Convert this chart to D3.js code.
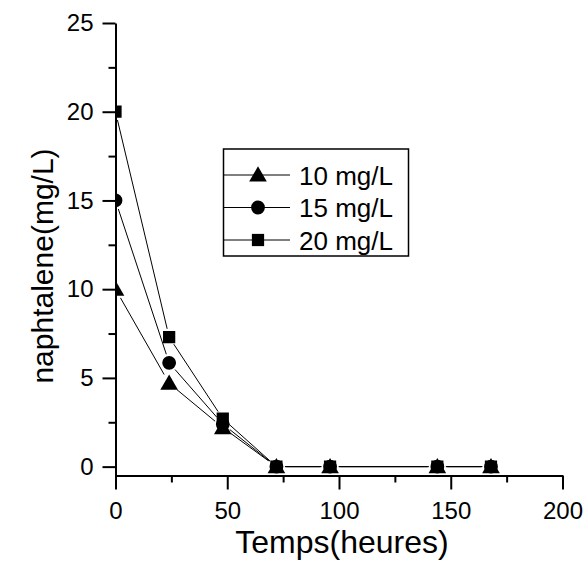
<!DOCTYPE html><html><head><meta charset="utf-8">
<title>naphtalene</title>
<script src="https://cdn.jsdelivr.net/npm/d3@7"></script>
<style>
body { margin: 0; background: #fff; }
svg { display: block; font-family: "Liberation Sans", Arial, sans-serif; }
</style>
</head>
<body>
<div id="chart"></div>
<script>
// data
const hours = [0, 24, 48, 72, 96, 144, 168];
const s10 = [10, 4.7, 2.2, 0, 0, 0, 0];
const s15 = [15, 5.85, 2.4, 0, 0, 0, 0];
const s20 = [20, 7.3, 2.7, 0, 0, 0, 0];
const seriesNames = ["10 mg/L", "15 mg/L", "20 mg/L"];
const seriesSymbols = ["triangle", "circle", "square"];
const xMajor = [0, 50, 100, 150, 200];
const xMinor = [25, 75, 125, 175];
const yMajor = [0, 5, 10, 15, 20, 25];
const yMinor = [2.5, 7.5, 12.5, 17.5, 22.5];

const W = 586, H = 562;
const x = d3.scaleLinear().domain([0, 200]).range([115.5, 562.5]);
const y = d3.scaleLinear().domain([-0.5, 25]).range([475.5, 23]);

const svg = d3.select("#chart").append("svg").attr("width", W).attr("height", H);

// markers
const symbolOf = {
	triangle: d3.symbol().type(d3.symbolTriangle).size(135),
	circle: d3.symbol().type(d3.symbolCircle).size(150),
	square: d3.symbol().type(d3.symbolSquare).size(150)
};
const gapOf = { triangle: 10, circle: 9, square: 8.5 };

svg.append("clipPath").attr("id", "plot")
	.append("rect")
	.attr("x", x(0)).attr("y", 0)
	.attr("width", x(200) - x(0)).attr("height", y(-0.5));

const plot = svg.append("g").attr("clip-path", "url(#plot)");

const allSeries = [s10, s15, s20];
allSeries.forEach((vals, i) => {
	const pts = hours.map((h, k) => [x(h), y(vals[k])]);
	const gap = gapOf[seriesSymbols[i]];
	// segments with a small gap at each marker
	for (let k = 0; k < pts.length - 1; k++) {
		const [x1, y1] = pts[k], [x2, y2] = pts[k + 1];
		const len = Math.hypot(x2 - x1, y2 - y1);
		const ux = (x2 - x1) / len, uy = (y2 - y1) / len;
		plot.append("line")
			.attr("x1", x1 + ux * gap).attr("y1", y1 + uy * gap)
			.attr("x2", x2 - ux * gap).attr("y2", y2 - uy * gap)
			.attr("stroke", "#000").attr("stroke-width", 1);
	}
});
allSeries.forEach((vals, i) => {
	const sym = seriesSymbols[i];
	plot.selectAll(null).data(hours).join("path")
		.attr("d", symbolOf[sym])
		.attr("transform", (h, k) => `translate(${x(h)},${y(vals[k]) + (sym === "triangle" ? 1.5 : 0)})`)
		.attr("fill", "#000");
});

// axes
const xAxis = svg.append("g").attr("transform", `translate(0,${y(-0.5)})`);
xAxis.call(d3.axisBottom(x).tickValues(xMajor).tickSize(14).tickSizeOuter(0).tickPadding(12));
xAxis.call(g => g.append("g").call(d3.axisBottom(x).tickValues(xMinor).tickSize(7).tickFormat("")).select(".domain").remove());

const yAxis = svg.append("g").attr("transform", `translate(${x(0)},0)`);
yAxis.call(d3.axisLeft(y).tickValues(yMajor).tickSize(13).tickSizeOuter(0).tickPadding(9));
yAxis.call(g => g.append("g").call(d3.axisLeft(y).tickValues(yMinor).tickSize(7).tickFormat("")).select(".domain").remove());

svg.selectAll(".domain, .tick line").attr("stroke", "#000").attr("stroke-width", 2);
svg.selectAll(".tick text").attr("font-size", 24).attr("fill", "#000")
	.attr("font-family", "Liberation Sans, Arial, sans-serif");

// axis titles
svg.append("text")
	.attr("x", 342).attr("y", 553)
	.attr("text-anchor", "middle").attr("font-size", 32)
	.text("Temps(heures)");
svg.append("text")
	.attr("transform", "translate(53,266) rotate(-90)")
	.attr("text-anchor", "middle").attr("font-size", 30)
	.text("naphtalene(mg/L)");

// legend
const lg = svg.append("g");
lg.append("rect")
	.attr("x", 223.5).attr("y", 149).attr("width", 185).attr("height", 107)
	.attr("fill", "none").attr("stroke", "#000").attr("stroke-width", 1.5);
seriesNames.forEach((name, i) => {
	const ry = 175 + i * 32.5;
	lg.append("line").attr("x1", 224).attr("x2", 290).attr("y1", ry).attr("y2", ry)
		.attr("stroke", "#000").attr("stroke-width", 1);
	lg.append("path").attr("d", symbolOf[seriesSymbols[i]])
		.attr("transform", `translate(258,${ry + (seriesSymbols[i] === "triangle" ? 1.5 : 0)})`);
	lg.append("text").attr("x", 299).attr("y", ry + 9.5)
		.attr("font-size", 26).text(name);
});
</script>
</body>
</html>
